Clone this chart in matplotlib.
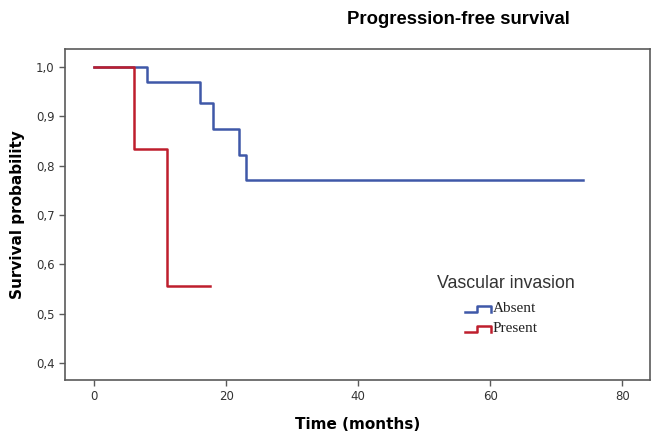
import numpy as np
import matplotlib
matplotlib.use("Agg")
import matplotlib.pyplot as plt
from matplotlib.lines import Line2D

# Kaplan-Meier steps
absent_t = [0, 8, 16, 18, 22, 23, 74]
absent_s = [1.0, 0.969, 0.926, 0.874, 0.821, 0.770, 0.770]
present_t = [0, 6, 11, 17.6]
present_s = [1.0, 0.833, 0.556, 0.556]

blue = "#3F58A8"
red = "#BE1E2D"
frame = "#5a5a5a"

fig = plt.figure(figsize=(6.56, 4.32), dpi=100)
ax = fig.add_axes([65/656, 1-380/432, 585/656, 331/432])

ax.step(absent_t, absent_s, where="post", color=blue, lw=1.8)
ax.step(present_t, present_s, where="post", color=red, lw=1.8)

ax.set_xlim(-4.4, 84.2)
ax.set_ylim(0.366, 1.036)
ax.set_xticks([0, 20, 40, 60, 80])
ax.set_yticks([0.4, 0.5, 0.6, 0.7, 0.8, 0.9, 1.0])
ax.set_yticklabels([("%.1f" % v).replace(".", ",") for v in ax.get_yticks()])
ax.tick_params(direction="out", length=4, width=1, color=frame, labelsize=8.5, labelcolor="#333333")
for s in ax.spines.values():
    s.set_color(frame)
    s.set_linewidth(1.2)

ax.set_xlabel("Time (months)", fontsize=11, fontweight="bold", labelpad=10)
ax.set_ylabel("Survival probability", fontsize=11, fontweight="bold", labelpad=8)
fig.text(458/656, 1-20/432, "Progression-free survival", ha="center", va="center",
         fontsize=13.3, fontweight="bold", family="Liberation Sans")

# legend drawn by hand, step-shaped keys
def px(x, y):
    return x/656, 1-y/432

fig.text(*px(437, 284), "Vascular invasion", ha="left", va="center", fontsize=12.8,
         color="#333333", family="Liberation Sans")
for (y, c, lab) in [(309, blue, "Absent"), (329, red, "Present")]:
    xs = [465, 477, 477, 491, 491]
    ys = [y+3, y+3, y-3, y-3, y+3]
    pts = [px(a, b) for a, b in zip(xs, ys)]
    fig.add_artist(Line2D([p[0] for p in pts], [p[1] for p in pts], color=c, lw=1.8,
                          transform=fig.transFigure))
    fig.text(*px(493, y), lab, ha="left", va="center", fontsize=11,
             family="Liberation Serif", color="#222222")

fig.savefig("out.png", dpi=100)
